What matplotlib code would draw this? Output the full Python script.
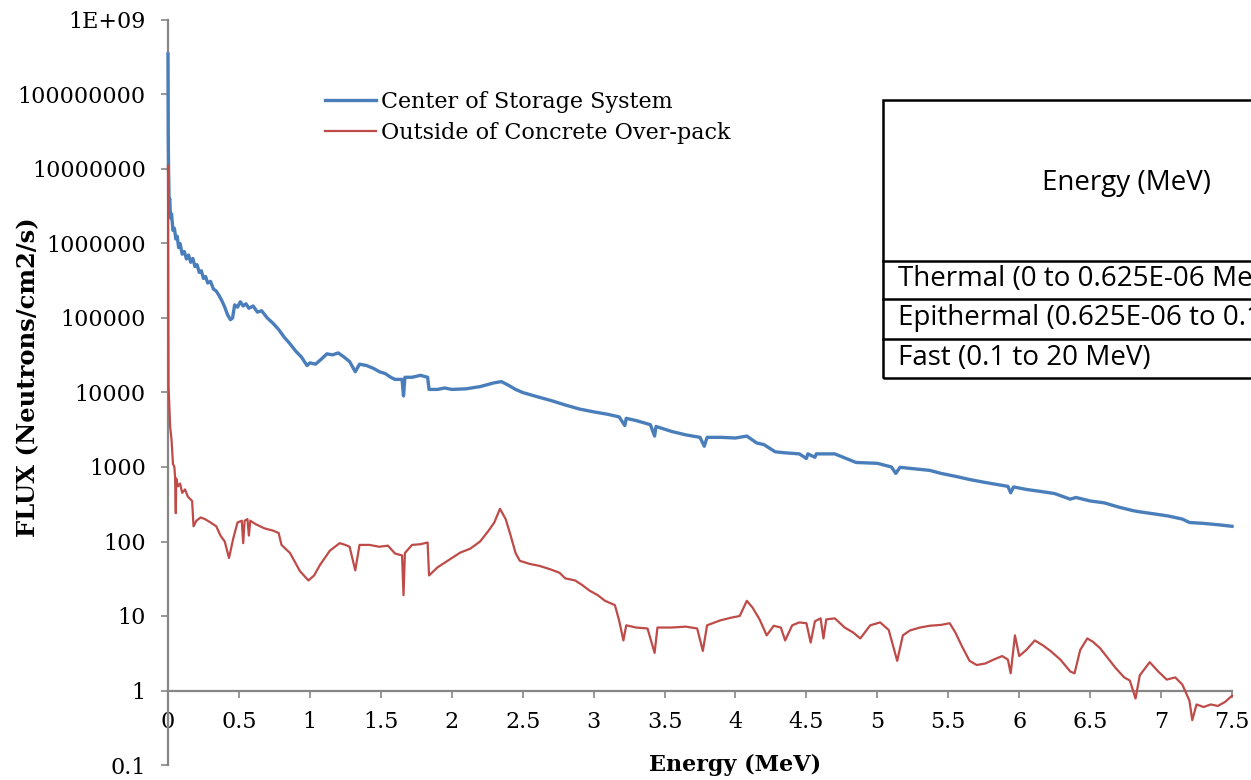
"""Neutron flux spectra: centre of the storage system vs. outside the concrete over-pack."""

import matplotlib
matplotlib.use("Agg")
import matplotlib.pyplot as plt
from matplotlib.lines import Line2D
from matplotlib.patches import Rectangle
from matplotlib.ticker import FixedLocator, NullLocator

# ── data ────────────────────────────────────────────────────────────
center_energy = [
    0.000, 0.002, 0.004, 0.008, 0.012, 0.018, 0.025, 0.035, 0.045, 0.055,
    0.065, 0.075, 0.085, 0.100, 0.115, 0.130, 0.145, 0.160, 0.175, 0.190,
    0.205, 0.220, 0.235, 0.250, 0.265, 0.280, 0.300, 0.320, 0.340, 0.360,
    0.380, 0.400, 0.420, 0.440, 0.455, 0.470, 0.490, 0.510, 0.530, 0.550,
    0.570, 0.600, 0.630, 0.660, 0.700, 0.740, 0.780, 0.820, 0.860, 0.900,
    0.940, 0.980, 1.000, 1.040, 1.080, 1.120, 1.160, 1.200, 1.240, 1.280,
    1.320, 1.350, 1.400, 1.450, 1.490, 1.530, 1.570, 1.600, 1.650, 1.660,
    1.670, 1.720, 1.780, 1.830, 1.840, 1.900, 1.950, 2.000, 2.100, 2.200,
    2.300, 2.350, 2.400, 2.450, 2.500, 2.600, 2.700, 2.800, 2.900, 3.000,
    3.100, 3.180, 3.220, 3.230, 3.300, 3.400, 3.430, 3.440, 3.550, 3.650,
    3.750, 3.780, 3.800, 3.900, 4.000, 4.080, 4.150, 4.200, 4.280, 4.350,
    4.450, 4.500, 4.510, 4.560, 4.570, 4.700, 4.780, 4.850, 5.000, 5.100,
    5.130, 5.160, 5.250, 5.370, 5.450, 5.550, 5.650, 5.760, 5.850, 5.920,
    5.940, 5.960, 6.050, 6.150, 6.250, 6.360, 6.400, 6.500, 6.600, 6.700,
    6.800, 6.850, 6.950, 7.050, 7.150, 7.200, 7.300, 7.400, 7.500,
]
center_flux = [
    3.5e8, 2.4e7, 9.5e6, 3.5e6, 4.0e6, 2.2e6, 2.5e6, 1.5e6, 1.6e6, 1.15e6,
    1.25e6, 8.8e5, 1.0e6, 7.2e5, 7.8e5, 6.2e5, 7.0e5, 5.6e5, 6.3e5, 4.9e5,
    5.2e5, 4.1e5, 4.3e5, 3.4e5, 3.6e5, 2.95e5, 3.1e5, 2.45e5, 2.3e5, 2.0e5,
    1.7e5, 1.4e5, 1.1e5, 9.5e4, 1.0e5, 1.5e5, 1.4e5, 1.65e5, 1.45e5, 1.55e5,
    1.35e5, 1.45e5, 1.2e5, 1.25e5, 1.0e5, 8.5e4, 7.0e4, 5.5e4, 4.5e4, 3.6e4,
    3.0e4, 2.3e4, 2.5e4, 2.4e4, 2.8e4, 3.3e4, 3.2e4, 3.4e4, 3.0e4, 2.6e4,
    1.9e4, 2.4e4, 2.3e4, 2.1e4, 1.9e4, 1.8e4, 1.6e4, 1.5e4, 1.5e4, 9.0e3,
    1.6e4, 1.6e4, 1.7e4, 1.6e4, 1.1e4, 1.1e4, 1.15e4, 1.1e4, 1.12e4, 1.2e4,
    1.35e4, 1.4e4, 1.25e4, 1.1e4, 1.0e4, 8.8e3, 7.8e3, 6.8e3, 6.0e3, 5.5e3,
    5.1e3, 4.7e3, 3.6e3, 4.5e3, 4.2e3, 3.7e3, 2.6e3, 3.5e3, 3.0e3, 2.7e3,
    2.5e3, 1.9e3, 2.5e3, 2.5e3, 2.45e3, 2.6e3, 2.1e3, 2.0e3, 1.6e3, 1.55e3,
    1.5e3, 1.3e3, 1.5e3, 1.35e3, 1.5e3, 1.5e3, 1.3e3, 1.15e3, 1.12e3, 1.0e3,
    8.2e2, 9.9e2, 9.5e2, 9.0e2, 8.2e2, 7.5e2, 6.8e2, 6.2e2, 5.8e2, 5.5e2,
    4.5e2, 5.4e2, 5.0e2, 4.7e2, 4.4e2, 3.7e2, 3.9e2, 3.5e2, 3.3e2, 2.9e2,
    2.6e2, 2.5e2, 2.35e2, 2.2e2, 2.0e2, 1.8e2, 1.75e2, 1.68e2, 1.6e2,
]

outside_energy = [
    0.000, 0.002, 0.004, 0.008, 0.015, 0.025, 0.035, 0.045, 0.050, 0.055,
    0.058, 0.070, 0.085, 0.100, 0.120, 0.140, 0.170, 0.180, 0.200, 0.230,
    0.260, 0.300, 0.340, 0.370, 0.400, 0.430, 0.460, 0.490, 0.520, 0.530,
    0.540, 0.560, 0.570, 0.580, 0.620, 0.680, 0.740, 0.780, 0.800, 0.860,
    0.930, 0.990, 1.030, 1.070, 1.140, 1.210, 1.250, 1.280, 1.320, 1.350,
    1.420, 1.490, 1.550, 1.600, 1.650, 1.660, 1.670, 1.720, 1.780, 1.830,
    1.840, 1.900, 1.970, 2.060, 2.130, 2.200, 2.260, 2.300, 2.340, 2.380,
    2.410, 2.450, 2.480, 2.550, 2.620, 2.700, 2.760, 2.800, 2.870, 2.920,
    2.970, 3.030, 3.080, 3.150, 3.180, 3.210, 3.230, 3.300, 3.380, 3.430,
    3.450, 3.550, 3.650, 3.730, 3.770, 3.800, 3.890, 3.970, 4.030, 4.080,
    4.120, 4.170, 4.220, 4.270, 4.320, 4.350, 4.400, 4.450, 4.500, 4.530,
    4.560, 4.600, 4.620, 4.640, 4.700, 4.770, 4.830, 4.880, 4.950, 5.020,
    5.080, 5.140, 5.180, 5.230, 5.300, 5.370, 5.450, 5.510, 5.550, 5.600,
    5.650, 5.700, 5.760, 5.820, 5.880, 5.920, 5.940, 5.970, 6.000, 6.050,
    6.110, 6.170, 6.220, 6.290, 6.360, 6.390, 6.430, 6.480, 6.520, 6.570,
    6.620, 6.680, 6.740, 6.780, 6.820, 6.850, 6.920, 6.980, 7.040, 7.100,
    7.150, 7.200, 7.220, 7.250, 7.300, 7.350, 7.400, 7.450, 7.500,
]
outside_flux = [
    1.1e7, 1.7e5, 1.2e4, 7.8e3, 3.5e3, 2.3e3, 1.1e3, 1.0e3, 7.2e2, 2.4e2,
    7.0e2, 5.5e2, 6.0e2, 4.5e2, 5.0e2, 4.0e2, 3.5e2, 1.6e2, 1.9e2, 2.1e2,
    2.0e2, 1.8e2, 1.6e2, 1.2e2, 1.0e2, 6.0e1, 1.1e2, 1.8e2, 1.9e2, 9.5e1,
    1.9e2, 2.0e2, 1.2e2, 1.9e2, 1.7e2, 1.5e2, 1.4e2, 1.3e2, 9.0e1, 7.0e1,
    4.0e1, 3.0e1, 3.5e1, 4.8e1, 7.5e1, 9.5e1, 9.0e1, 8.5e1, 4.1e1, 9.0e1,
    9.0e1, 8.5e1, 8.8e1, 6.9e1, 6.5e1, 1.9e1, 7.0e1, 9.0e1, 9.2e1, 9.7e1,
    3.5e1, 4.5e1, 5.5e1, 7.1e1, 8.0e1, 1.0e2, 1.4e2, 1.8e2, 2.75e2, 2.0e2,
    1.3e2, 7.0e1, 5.5e1, 5.0e1, 4.7e1, 4.2e1, 3.8e1, 3.2e1, 3.0e1, 2.6e1,
    2.2e1, 1.9e1, 1.6e1, 1.4e1, 8.7, 4.7, 7.5, 7.0, 6.8, 3.2,
    7.0, 7.0, 7.2, 6.8, 3.4, 7.5, 8.7, 9.5, 10.0, 16.0,
    13.0, 9.0, 5.5, 7.4, 7.0, 4.7, 7.5, 8.2, 8.0, 4.4,
    8.5, 9.3, 5.0, 9.0, 9.3, 7.0, 6.0, 5.0, 7.5, 8.2,
    6.5, 2.5, 5.5, 6.4, 7.0, 7.4, 7.6, 8.0, 6.0, 3.8,
    2.5, 2.2, 2.3, 2.6, 2.9, 2.6, 1.7, 5.5, 2.9, 3.5,
    4.7, 4.0, 3.4, 2.6, 1.8, 1.7, 3.5, 5.0, 4.5, 3.7,
    2.8, 2.0, 1.5, 1.36, 0.78, 1.6, 2.4, 1.8, 1.4, 1.5,
    1.2, 0.73, 0.40, 0.65, 0.60, 0.65, 0.62, 0.70, 0.85,
]

series_labels = ["Center of Storage System", "Outside of Concrete Over-pack"]

x_ticks = [0, 0.5, 1, 1.5, 2, 2.5, 3, 3.5, 4, 4.5, 5, 5.5, 6, 6.5, 7, 7.5]
x_tick_labels = ["0", "0.5", "1", "1.5", "2", "2.5", "3", "3.5", "4", "4.5",
                 "5", "5.5", "6", "6.5", "7", "7.5"]
y_ticks = [0.1, 1, 10, 100, 1e3, 1e4, 1e5, 1e6, 1e7, 1e8, 1e9]
y_tick_labels = ["0.1", "1", "10", "100", "1000", "10000", "100000", "1000000",
                 "10000000", "100000000", "1E+09"]

table_header = "Energy (MeV)"
table_rows = [
    "Thermal (0 to 0.625E-06 MeV)",
    "Epithermal (0.625E-06 to 0.1 MeV)",
    "Fast (0.1 to 20 MeV)",
]

# ── style ───────────────────────────────────────────────────────────
BLUE = "#4A7EBB"
RED = "#BE4B48"
AXIS_GREY = "#868686"
SERIF = "DejaVu Serif"
SANS = "Open Sans"

W_PX, H_PX = 1251, 780


def _fx(px):
    return px / W_PX


def _fy(py):
    return 1 - py / H_PX


def _table(fig):
    """Energy-group table that runs off the right edge, as in the source."""
    left, top, bottom = 883, 100, 378
    fig.add_artist(Rectangle((_fx(left), _fy(bottom)), _fx(600), _fy(top) - _fy(bottom),
                             transform=fig.transFigure, fill=False, ec="black", lw=1.8))
    for py in (261, 299, 339):
        fig.add_artist(Line2D([_fx(left), _fx(1400)], [_fy(py), _fy(py)],
                              transform=fig.transFigure, color="black", lw=1.8))
    fig.text(_fx(1127), _fy(183), table_header, ha="center", va="center",
             fontsize=20, family=SANS)
    for py, txt in zip((279, 318, 358), table_rows):
        fig.text(_fx(898), _fy(py), txt, ha="left", va="center", fontsize=20, family=SANS)


def build_figure():
    fig = plt.figure(figsize=(W_PX / 100, H_PX / 100), dpi=100)
    ax = fig.add_axes([_fx(168), 15 / H_PX, (1232 - 168) / W_PX, (765 - 20) / H_PX])

    ax.plot(center_energy, center_flux, color=BLUE, lw=2.4, zorder=3, clip_on=False,
            label=series_labels[0])
    ax.plot(outside_energy, outside_flux, color=RED, lw=1.6, zorder=3, clip_on=False,
            label=series_labels[1])

    ax.set_yscale("log")
    ax.set_xlim(0, 7.5)
    ax.set_ylim(0.1, 1e9)

    ax.xaxis.set_major_locator(FixedLocator(x_ticks))
    ax.set_xticklabels(x_tick_labels)
    ax.yaxis.set_major_locator(FixedLocator(y_ticks))
    ax.yaxis.set_minor_locator(NullLocator())
    ax.set_yticklabels(y_tick_labels)

    for side in ("top", "right"):
        ax.spines[side].set_visible(False)
    ax.spines["bottom"].set_position(("data", 1))
    for side in ("left", "bottom"):
        ax.spines[side].set_color(AXIS_GREY)
        ax.spines[side].set_linewidth(1.6)

    ax.tick_params(axis="x", direction="out", length=5, width=1.2, color=AXIS_GREY,
                   pad=10, labelsize=16)
    ax.tick_params(axis="y", direction="out", length=5, width=1.2, color=AXIS_GREY,
                   pad=11, labelsize=16)
    for lab in ax.get_xticklabels() + ax.get_yticklabels():
        lab.set_family(SERIF)

    ax.set_xlabel("Energy (MeV)", family=SERIF, fontsize=16, fontweight="bold")
    ax.xaxis.set_label_coords((735 - 168) / 1064, 0.0)
    ax.xaxis.label.set_va("center")
    ax.set_ylabel("FLUX (Neutrons/cm2/s)", family=SERIF, fontsize=17.5, fontweight="bold")
    ax.yaxis.set_label_coords((28 - 168) / 1064, (765 - 377) / 745)
    ax.yaxis.label.set_va("center")

    ax.legend(loc="upper left", bbox_to_anchor=(_fx(325), _fy(91)),
              bbox_transform=fig.transFigure, frameon=False, borderpad=0,
              borderaxespad=0, handlelength=2.3, handletextpad=0.22,
              labelspacing=0.4, prop={"family": SERIF, "size": 16})

    _table(fig)

    fig.savefig("out.png", dpi=100)
    plt.close(fig)


if __name__ == "__main__":
    build_figure()
